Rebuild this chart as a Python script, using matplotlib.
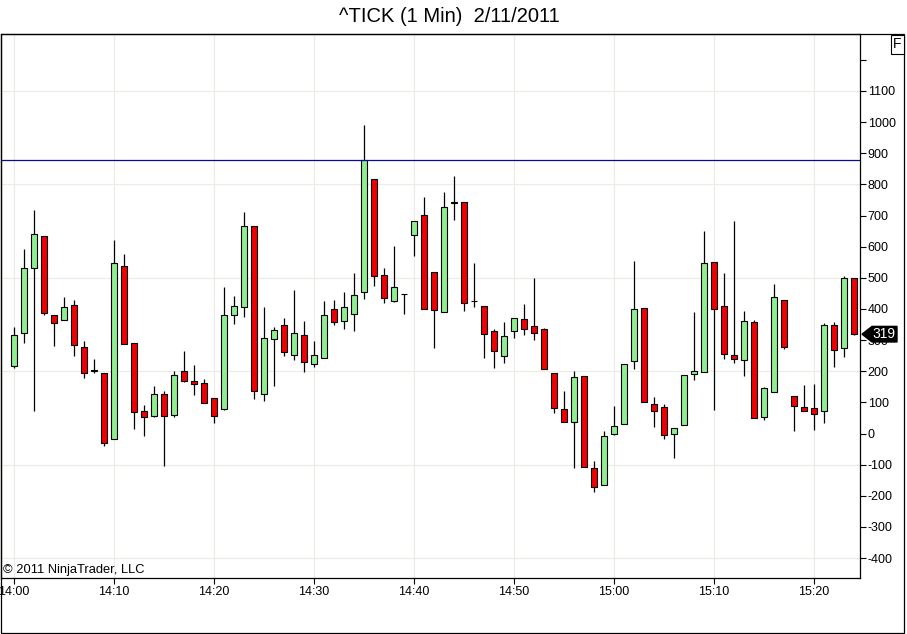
import numpy as np
import matplotlib.pyplot as plt
from matplotlib.patches import Polygon, Rectangle
from matplotlib.transforms import blended_transform_factory

plt.rcParams['font.family'] = ['Liberation Sans', 'DejaVu Sans']

# minutes after 14:00, one candle per minute
minutes = np.arange(85)

opens = [218, 324, 533, 633, 382, 366, 414, 277, 202, 195,
         -17, 539, 292, 73, 56, 128, 60, 202, 170, 163,
         115, 79, 379, 406, 668, 126, 303, 350, 252, 317,
         224, 243, 401, 362, 385, 454, 816, 510, 424, 449,
         639, 703, 520, 391, 739, 745, 424, 411, 330, 250,
         330, 369, 346, 337, 195, 79, 38, 186, -110, -165,
         -1, 31, 234, 403, 96, 86, -1, 28, 192, 198,
         552, 411, 253, 237, 359, 54, 134, 430, 121, 86,
         83, 73, 350, 276, 501]
highs = [341, 591, 717, 633, 382, 440, 428, 296, 238, 195,
         620, 575, 292, 93, 151, 137, 202, 266, 219, 176,
         115, 470, 441, 711, 668, 407, 341, 372, 462, 360,
         296, 427, 430, 456, 517, 990, 816, 533, 601, 449,
         684, 758, 520, 777, 826, 745, 546, 411, 337, 359,
         372, 417, 501, 340, 195, 135, 202, 186, -88, 9,
         89, 224, 555, 403, 118, 96, 18, 189, 391, 649,
         552, 514, 681, 395, 366, 150, 481, 430, 121, 157,
         160, 356, 359, 507, 501]
lows = [210, 290, 72, 382, 281, 365, 249, 178, 195, -41,
        -17, 288, 14, -9, 54, -103, 52, 165, 124, 98,
        33, 76, 351, 374, 110, 104, 154, 248, 236, 197,
        213, 243, 348, 335, 329, 432, 474, 420, 423, 385,
        570, 401, 274, 391, 686, 395, 407, 242, 211, 227,
        308, 317, 301, 208, 67, 37, -110, -107, -188, -165,
        -4, 31, 207, 102, 20, -17, -78, 28, 173, 198,
        76, 240, 227, 186, 49, 44, 134, 272, 9, 73,
        12, 34, 215, 247, 317]
closes = [317, 530, 642, 387, 356, 407, 285, 195, 202, -30,
          546, 288, 70, 52, 128, 56, 189, 170, 158, 99,
          56, 379, 411, 668, 136, 308, 333, 263, 324, 229,
          252, 382, 359, 407, 446, 879, 507, 436, 472, 449,
          684, 401, 398, 729, 745, 420, 424, 321, 266, 314,
          372, 337, 324, 208, 83, 38, 182, -107, -171, -7,
          25, 224, 401, 102, 73, -4, 18, 189, 202, 546,
          401, 256, 240, 362, 51, 147, 440, 279, 89, 73,
          63, 350, 269, 501, 319]

time_ticks = np.arange(0, 90, 10)
time_labels = ['14:00', '14:10', '14:20', '14:30', '14:40', '14:50',
               '15:00', '15:10', '15:20']
y_ticks = np.arange(-400, 1300, 100)
y_grid = [1100, 800, 500, 200, -100, -400]
ref_level = 878
last_price = 319

fig = plt.figure(figsize=(9.07, 6.34), dpi=100)
ax = fig.add_axes([1 / 907, 56 / 634, 859 / 907, 544 / 634])

opens = np.array(opens)
closes = np.array(closes)
up = closes >= opens
body_lo = np.minimum(opens, closes)
body_h = np.maximum(np.abs(closes - opens), 0.5)

ax.vlines(minutes, lows, highs, color='black', linewidth=0.9, zorder=2)
ax.bar(minutes, body_h, bottom=body_lo, width=0.62,
       color=np.where(up, '#90ee90', '#f00000'),
       edgecolor='black', linewidth=0.8, zorder=3)

ax.axhline(ref_level, color='#0a0a96', linewidth=0.9, zorder=4)
for g in y_grid:
    ax.axhline(g, color='#ecebe4', linewidth=0.8, zorder=0)
ax.grid(axis='x', color='#ecebe4', linewidth=0.8, zorder=0)
ax.set_axisbelow(True)

ax.set_xlim(-1.3, 84.6)
ax.set_ylim(-464, 1283)
ax.set_xticks(time_ticks)
ax.set_xticklabels(time_labels)
ax.set_yticks(y_ticks)
ax.set_yticklabels([str(v) if v != 1200 else '' for v in y_ticks])
ax.yaxis.tick_right()
ax.tick_params(axis='both', labelsize=9, length=4, width=0.8, colors='black')
ax.tick_params(axis='y', pad=1.5)
ax.tick_params(axis='x', pad=2)
for s in ax.spines.values():
    s.set_linewidth(0.9)

ax.text(2 / 859, 0.004, '\u00a9 2011 NinjaTrader, LLC', transform=ax.transAxes,
        fontsize=9.3, ha='left', va='bottom')

# last price marker on the right axis (covers the 300 label, as in the original)
tr = blended_transform_factory(fig.transFigure, ax.transData)
pts = [(862 / 907, last_price), (872 / 907, last_price + 25), (897 / 907, last_price + 25),
       (897 / 907, last_price - 25), (872 / 907, last_price - 25)]
ax.add_patch(Polygon(pts, closed=True, facecolor='black', edgecolor='black',
                     transform=tr, clip_on=False, zorder=5))
ax.text(884 / 907, last_price, str(last_price), transform=tr, color='white',
        fontsize=10, ha='center', va='center', zorder=6, clip_on=False)

fig.text(897.5 / 907, (634 - 44) / 634, 'F', fontsize=10, ha='center', va='center',
         bbox=dict(boxstyle='square,pad=0.18', facecolor='white', edgecolor='black', linewidth=0.8))

fig.patches.append(Rectangle((0.5 / 907, 1.5 / 634), 903.5 / 907, 598.5 / 634,
                             transform=fig.transFigure, fill=False,
                             edgecolor='black', linewidth=0.9))

fig.text(449.5 / 907, (634 - 17) / 634, '^TICK (1 Min)  2/11/2011', fontsize=14.5,
         ha='center', va='center')

plt.savefig('out.png', dpi=100)
